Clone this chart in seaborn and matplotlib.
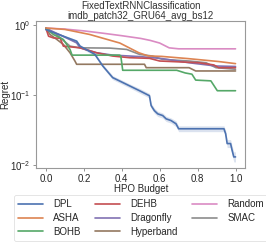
import matplotlib
matplotlib.use("Agg")
import matplotlib.pyplot as plt
import seaborn as sns
import pandas as pd
import numpy as np

sns.set_theme(style="white")
plt.rcParams['font.family'] = ['Liberation Sans', 'DejaVu Sans']

methods = ["DPL", "ASHA", "BOHB", "DEHB", "Dragonfly", "Hyperband", "Random", "SMAC"]
palette = sns.color_palette("deep", 8)
colors = {"DPL": palette[0], "ASHA": palette[1], "BOHB": palette[2], "DEHB": palette[3],
          "Dragonfly": palette[4], "Hyperband": palette[5], "Random": palette[6], "SMAC": palette[7]}

dpl_x = [0.0, 0.092, 0.162, 0.18, 0.258, 0.30, 0.352, 0.441, 0.494, 0.546, 0.555, 0.572, 0.59,
         0.616, 0.634, 0.66, 0.686, 0.70, 0.939, 0.948, 0.956, 0.974, 0.982, 0.991, 1.0]
dpl_y = [0.855, 0.688, 0.585, 0.497, 0.38, 0.259, 0.177, 0.135, 0.115, 0.0976, 0.0705, 0.0598, 0.0538,
         0.0509, 0.0457, 0.0432, 0.0389, 0.033, 0.033, 0.028, 0.0203, 0.0203, 0.0163, 0.0131, 0.0131]
dpl_band = [1.03, 1.04, 1.05, 1.05, 1.06, 1.06, 1.07, 1.07, 1.08, 1.08, 1.09, 1.09, 1.09,
            1.09, 1.09, 1.09, 1.1, 1.1, 1.1, 1.12, 1.14, 1.14, 1.16, 1.18, 1.18]

asha_x = [0.0, 0.1, 0.23, 0.39, 0.49, 0.54, 0.61, 0.75, 0.91, 1.0]
asha_y = [0.9, 0.86, 0.73, 0.55, 0.40, 0.36, 0.355, 0.33, 0.30, 0.28]

bohb_x = [0.0, 0.04, 0.092, 0.127, 0.138, 0.389, 0.395, 0.405, 0.69, 0.735, 0.77, 0.79, 0.87, 0.904, 1.0]
bohb_y = [0.89, 0.727, 0.618, 0.446, 0.37, 0.37, 0.359, 0.225, 0.225, 0.206, 0.198, 0.163, 0.159, 0.115, 0.115]

dehb_x = [0.0, 0.014, 0.04, 0.075, 0.092, 0.18, 0.267, 0.352, 0.441, 0.546, 0.60, 0.807, 0.886, 0.911, 1.0]
dehb_y = [0.89, 0.688, 0.65, 0.645, 0.497, 0.47, 0.40, 0.359, 0.34, 0.333, 0.305, 0.288, 0.268, 0.245, 0.245]

dragonfly_x = [0.0, 0.09, 0.162, 0.18, 0.267, 0.352, 0.494, 0.614, 0.755, 0.895, 1.0]
dragonfly_y = [0.89, 0.688, 0.553, 0.47, 0.40, 0.37, 0.353, 0.33, 0.288, 0.259, 0.255]

hyperband_x = [0.0, 0.022, 0.058, 0.092, 0.127, 0.153, 0.162, 0.52, 0.529, 0.755, 0.79, 1.0]
hyperband_y = [0.89, 0.727, 0.618, 0.525, 0.40, 0.305, 0.274, 0.274, 0.245, 0.245, 0.22, 0.22]

random_x = [0.0, 0.1, 0.2, 0.3, 0.4, 0.5, 0.55, 0.6, 0.65, 0.7, 1.0]
random_y = [0.9, 0.87, 0.82, 0.76, 0.70, 0.64, 0.60, 0.55, 0.47, 0.455, 0.455]

smac_x = [0.0, 0.05, 0.127, 0.18, 0.337, 0.426, 0.494, 0.562, 0.614, 0.755, 0.845, 0.897, 1.0]
smac_y = [0.9, 0.75, 0.497, 0.47, 0.466, 0.446, 0.379, 0.359, 0.322, 0.305, 0.288, 0.245, 0.233]

series = {
    "DPL": (dpl_x, dpl_y), "ASHA": (asha_x, asha_y), "BOHB": (bohb_x, bohb_y),
    "DEHB": (dehb_x, dehb_y), "Dragonfly": (dragonfly_x, dragonfly_y),
    "Hyperband": (hyperband_x, hyperband_y), "Random": (random_x, random_y),
    "SMAC": (smac_x, smac_y),
}

rows = []
for m in methods:
    xs, ys = series[m]
    for x, y in zip(xs, ys):
        rows.append({"method": m, "budget": x, "regret": y})
df = pd.DataFrame(rows)

FS = 7
fig = plt.figure(figsize=(2.66, 2.43), dpi=100)
ax = fig.add_axes([0.137, 0.3086, 0.921 - 0.137, 0.912 - 0.3086])

for m in methods[::-1]:
    sub = df[df.method == m]
    sns.lineplot(data=sub, x="budget", y="regret", color=colors[m], ax=ax,
                 linewidth=1.2, label=m, sort=False, estimator=None)
lo = np.array(dpl_y) / np.array(dpl_band)
hi = np.array(dpl_y) * np.array(dpl_band)
ax.fill_between(dpl_x, lo, hi, color=colors["DPL"], alpha=0.2, linewidth=0)

ax.set_yscale("log")
ax.set_xlim(-0.05, 1.05)
ax.set_ylim(0.0091, 1.12)
ax.minorticks_off()
ax.set_xticks([0.0, 0.2, 0.4, 0.6, 0.8, 1.0])
ax.set_xlabel("HPO Budget", fontsize=FS, labelpad=0.5)
ax.set_ylabel("Regret", fontsize=FS, labelpad=0)
ax.set_title("FixedTextRNNClassification\nimdb_patch32_GRU64_avg_bs12", fontsize=FS, pad=1.5,
             linespacing=1.05, color="0.2")
ax.tick_params(axis="both", labelsize=FS, length=2.5, width=0.6, pad=1.5, colors="0.5",
               labelcolor="0.15", left=True, bottom=True)
for s in ax.spines.values():
    s.set_color("0.6")
    s.set_linewidth(0.8)

handles, labels = ax.get_legend_handles_labels()
hmap = dict(zip(labels, handles))
ax.get_legend().remove()
leg = fig.legend([hmap[m] for m in methods], methods, ncol=3, loc="center",
                 bbox_to_anchor=(0.53, 0.103), fontsize=FS, frameon=True,
                 handlelength=2.6, columnspacing=1.5, labelspacing=0.4,
                 borderpad=0.4, handletextpad=1.0)
leg.get_frame().set_edgecolor("0.85")
leg.get_frame().set_linewidth(0.6)

fig.savefig("out.png", dpi=100)
